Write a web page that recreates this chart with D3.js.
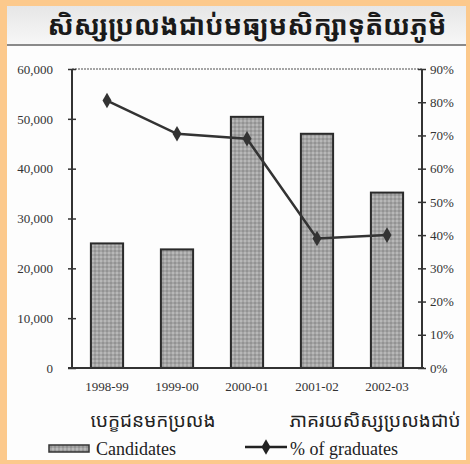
<!DOCTYPE html>
<html><head><meta charset="utf-8">
<script src="https://cdn.jsdelivr.net/npm/d3@7"></script>
<style>
html,body{margin:0;padding:0;background:#fff;}
svg{display:block;}
.serif{font-family:"Liberation Serif","DejaVu Serif",serif !important;}
</style></head>
<body>
<script>
const title = "សិស្សប្រលងជាប់មធ្យមសិក្សាទុតិយភូមិ";
const categories = ["1998-99","1999-00","2000-01","2001-02","2002-03"];
const candidates = [25000, 23800, 50400, 47000, 35200];
const pctGraduates = [80.5, 70.5, 69, 39, 40];
const leftTicks = [0,10000,20000,30000,40000,50000,60000];
const rightTicks = [0,10,20,30,40,50,60,70,80,90];
const khLeft = "បេក្ខជនមកប្រលង";
const khRight = "ភាគរយសិស្សប្រលងជាប់";
const legendLabels = ["Candidates","% of graduates"];

const W=470,H=464;
const khmerFont = "'Noto Sans Khmer','Khmer OS','Noto Serif Khmer',sans-serif";
const svg=d3.select("body").append("svg").attr("width",W).attr("height",H);
const defs=svg.append("defs");
const pat=defs.append("pattern").attr("id","tex").attr("patternUnits","userSpaceOnUse").attr("width",4).attr("height",4);
pat.append("rect").attr("width",4).attr("height",4).attr("fill","#a4a4a4");
pat.append("rect").attr("x",0).attr("y",0).attr("width",2).attr("height",2).attr("fill","#b8b8b8");
pat.append("rect").attr("x",2).attr("y",2).attr("width",2).attr("height",2).attr("fill","#939393");
const grad=defs.append("linearGradient").attr("id","tg").attr("x1",0).attr("y1",0).attr("x2",0).attr("y2",1);
grad.append("stop").attr("offset","0%").attr("stop-color","#e6e6e6");
grad.append("stop").attr("offset","100%").attr("stop-color","#f7f7f7");

// frame
svg.append("rect").attr("x",0).attr("y",0).attr("width",W).attr("height",H).attr("fill","#fcc98c");
svg.append("rect").attr("x",7).attr("y",6).attr("width",459).attr("height",454).attr("fill","#fdfdfd");
svg.append("rect").attr("x",7).attr("y",6).attr("width",459).attr("height",38).attr("fill","url(#tg)");
svg.append("line").attr("x1",7).attr("x2",466).attr("y1",45).attr("y2",45).attr("stroke","#8a8a8a").attr("stroke-width",2);

svg.append("text").attr("x",247).attr("y",35).attr("text-anchor","middle")
  .attr("font-family",khmerFont).attr("font-weight","bold").attr("font-size",27).attr("fill","#1a1a1a")
  .text(title);

const L=72,R=422,T=69,B=368;
const x=d3.scaleBand().domain(categories).range([L,R]).paddingInner(0.54).paddingOuter(0.27);
const yL=d3.scaleLinear().domain([0,60000]).range([B,T]);
const yR=d3.scaleLinear().domain([0,90]).range([B,T]);

// top frame line
svg.append("line").attr("x1",L).attr("x2",R).attr("y1",T).attr("y2",T).attr("stroke","#888").attr("stroke-width",1.5).attr("stroke-dasharray","2,1");

// bars
svg.selectAll("rect.bar").data(candidates).join("rect").attr("class","bar")
  .attr("x",(d,i)=>x(categories[i])).attr("width",x.bandwidth())
  .attr("y",d=>yL(d)).attr("height",d=>B-yL(d))
  .attr("fill","url(#tex)").attr("stroke","#2a2a2a").attr("stroke-width",2);

// axes
const axL=svg.append("g").attr("transform",`translate(${L},0)`)
  .call(d3.axisLeft(yL).tickValues(leftTicks).tickSize(4).tickPadding(15).tickFormat(d3.format(",")));
axL.selectAll(".tick line").attr("x1",-4).attr("x2",4);
const axR=svg.append("g").attr("transform",`translate(${R},0)`)
  .call(d3.axisRight(yR).tickValues(rightTicks).tickSize(4).tickPadding(4).tickFormat(d=>d+"%"));
axR.selectAll(".tick line").attr("x1",-4).attr("x2",4);
[axL,axR].forEach(a=>{
  a.attr("font-family",null);
  a.select(".domain").attr("stroke","#333").attr("stroke-width",2).attr("d",`M0,${T}V${B}`);
  a.selectAll(".tick line").attr("stroke","#333").attr("stroke-width",1.5);
  a.selectAll("text").attr("class","serif").attr("font-size",13).attr("fill","#333");
});
svg.append("line").attr("x1",L-4).attr("x2",R+2).attr("y1",B).attr("y2",B).attr("stroke","#333").attr("stroke-width",2);

const axB=svg.append("g").attr("transform",`translate(0,${B})`)
  .call(d3.axisBottom(x).tickSize(0).tickPadding(14));
axB.attr("font-family",null);
axB.select(".domain").remove();
axB.selectAll("text").attr("class","serif").attr("font-size",13).attr("fill","#333");

// line
const cx=(d,i)=>x(categories[i])+x.bandwidth()/2;
const line=d3.line().x(cx).y(d=>yR(d));
svg.append("path").datum(pctGraduates).attr("d",line).attr("fill","none").attr("stroke","#333").attr("stroke-width",2.5);
const diamond=d3.symbol().type(d3.symbolDiamond).size(70);
svg.selectAll("path.pt").data(pctGraduates).join("path").attr("class","pt")
  .attr("d",diamond).attr("transform",(d,i)=>`translate(${cx(d,i)},${yR(d)})`).attr("fill","#333");

// Khmer labels
svg.append("text").attr("x",153).attr("y",427).attr("text-anchor","middle")
  .attr("font-family",khmerFont).attr("font-size",19).attr("fill","#222").text(khLeft);
svg.append("text").attr("x",375).attr("y",427).attr("text-anchor","middle")
  .attr("font-family",khmerFont).attr("font-size",19).attr("fill","#222").text(khRight);

// legend
svg.append("rect").attr("x",49).attr("y",445).attr("width",40).attr("height",7)
  .attr("fill","url(#tex)").attr("stroke","#333").attr("stroke-width",1.5);
svg.append("text").attr("class","serif").attr("x",96).attr("y",455).attr("font-size",18).attr("fill","#222").text(legendLabels[0]);
svg.append("line").attr("x1",245).attr("x2",287).attr("y1",447).attr("y2",447).attr("stroke","#222").attr("stroke-width",2.5);
svg.append("path").attr("d",diamond).attr("transform","translate(266,447)").attr("fill","#222");
svg.append("text").attr("class","serif").attr("x",290).attr("y",455).attr("font-size",18).attr("fill","#222").text(legendLabels[1]);
</script>
</body></html>
